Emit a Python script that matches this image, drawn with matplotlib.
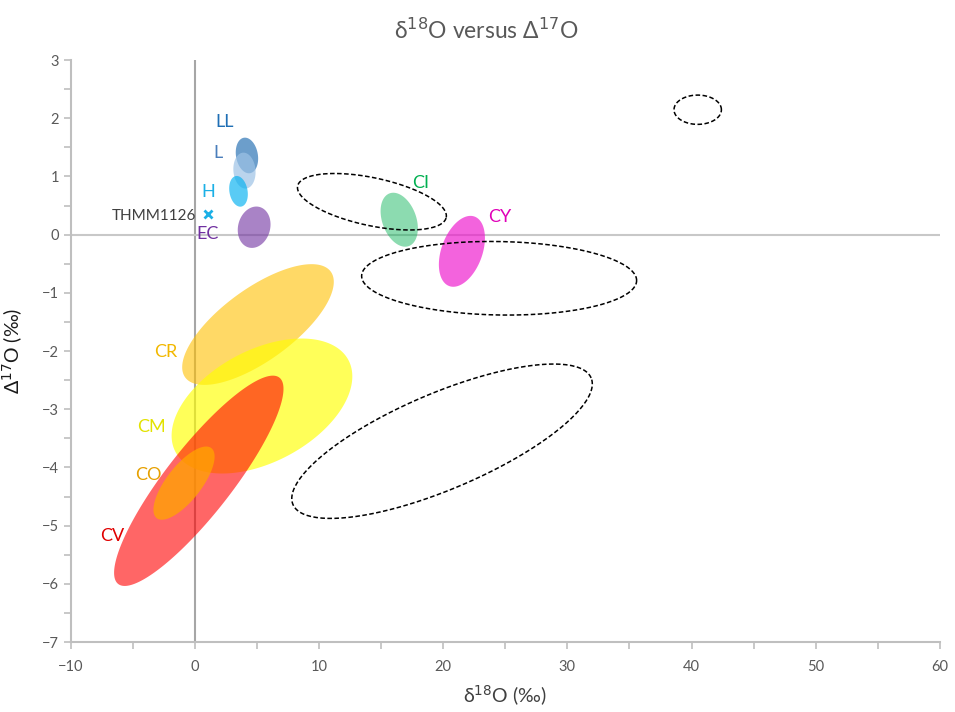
import matplotlib
matplotlib.use("Agg")
import matplotlib.pyplot as plt
import numpy as np

plt.rcParams['font.family'] = ['Lato', 'DejaVu Sans']

# ellipse fields: centre (d18O, D17O), semi-axes in d18O units (screen equivalent), tilt in degrees
groups = ['CR', 'CM', 'CV', 'CO', 'LL', 'L', 'H', 'EC', 'CI', 'CY']
cen_x = [5.07, 5.39, 0.30, -0.89, 4.18, 3.98, 3.50, 4.76, 16.45, 21.5]
cen_y = [-1.545, -2.945, -4.23, -4.27, 1.36, 1.10, 0.744, 0.127, 0.256, -0.287]
semi_a = [7.25, 7.89, 10.55, 3.58, 1.45, 1.45, 1.25, 1.69, 2.26, 2.98]
semi_b = [2.90, 4.51, 2.66, 1.40, 0.88, 0.89, 0.73, 1.29, 1.37, 1.65]
tilt = [36, 28, 52, 52, 100, 95, 100, 75, 110, 70]
fills = ['#FFC000', '#FFFF00', '#FF0000', '#FFA500', '#2E75B6', '#9DC3E6',
         '#00B0F0', '#7030A0', '#00B050', '#EE10CC']
alphas = [0.6, 0.65, 0.6, 0.75, 0.7, 0.7, 0.65, 0.6, 0.45, 0.65]

label_x = [-2.35, -3.55, -6.69, -3.79, 2.41, 1.84, 1.04, 1.04, 18.2, 24.56]
label_y = [-2.02, -3.31, -5.18, -4.13, 1.935, 1.40, 0.73, 0.01, 0.887, 0.30]
label_col = ['#F2B800', '#E2E200', '#E00000', '#E6A000', '#1F6FB5', '#4A7EBB',
             '#1CB0E6', '#7030A0', '#00B050', '#E000B8']

# unlabelled dashed fields
dash_x = [14.25, 24.5, 19.9, 40.5]
dash_y = [0.565, -0.75, -3.55, 2.146]
dash_a = [6.12, 11.08, 13.05, 1.91]
dash_b = [1.93, 2.96, 3.87, 1.18]
dash_tilt = [-12, -1, 23, 0]

# single sample
thmm_x = [1.04]
thmm_y = [0.354]

fig = plt.figure(figsize=(9.55, 7.12), dpi=100)
ax = fig.add_axes([0.0743, 0.0983, 0.9097, 0.8174])
ax.set_xlim(-10, 60)
ax.set_ylim(-7, 3)

pos = ax.get_position()
px_x = pos.width * 955 / 70.0
px_y = pos.height * 712 / 10.0
k = px_y / px_x


def ellipse_pts(cx, cy, a, b, ang):
    t = np.linspace(0, 2 * np.pi, 200)
    th = np.radians(ang)
    u = a * np.cos(t)
    v = b * np.sin(t)
    dx = u * np.cos(th) - v * np.sin(th)
    dy = u * np.sin(th) + v * np.cos(th)
    return cx + dx, cy + dy / k


ax.axvline(0, color='#A6A6A6', lw=1.5, zorder=1)
ax.axhline(0, color='#C8C8C8', lw=1.5, zorder=1)

for i in range(len(groups)):
    xs, ys = ellipse_pts(cen_x[i], cen_y[i], semi_a[i], semi_b[i], tilt[i])
    ax.fill(xs, ys, color=fills[i], alpha=alphas[i], lw=0, zorder=2)
    ax.text(label_x[i], label_y[i], groups[i], color=label_col[i], fontsize=13,
            ha='center', va='center', zorder=4)

for i in range(len(dash_x)):
    xs, ys = ellipse_pts(dash_x[i], dash_y[i], dash_a[i], dash_b[i], dash_tilt[i])
    ax.plot(xs, ys, color='black', lw=1.1, ls=(0, (3, 1.6)), zorder=3)

ax.plot(thmm_x, thmm_y, 'x', color='#1CB0E6', ms=6, mew=2, zorder=4)
ax.text(0.1, 0.32, 'THMM1126', color='#404040', fontsize=11, ha='right', va='center')

for s in ['top', 'right']:
    ax.spines[s].set_visible(False)
for s in ['left', 'bottom']:
    ax.spines[s].set_color('#BFBFBF')
    ax.spines[s].set_linewidth(1.5)

ax.set_xticks(np.arange(-10, 61, 10))
ax.set_xticks(np.arange(-5, 60, 10), minor=True)
ax.set_yticks(np.arange(-7, 4, 1))
ax.set_yticks(np.arange(-6.5, 3, 1), minor=True)
ax.tick_params(which='both', color='#BFBFBF', width=1.2, length=5, labelcolor='#595959',
               labelsize=10.5)
ax.tick_params(axis='x', pad=8)

ax.set_xlabel('δ$^{18}$O (‰)', fontsize=14, color='#404040', labelpad=7)
ax.set_ylabel('Δ$^{17}$O (‰)', fontsize=14, color='#1A1A1A', labelpad=12)
fig.text(486 / 955, 1 - 30 / 712, 'δ$^{18}$O versus Δ$^{17}$O', fontsize=16.5,
         color='#595959', ha='center', va='center')

fig.savefig('out.png', dpi=100)
